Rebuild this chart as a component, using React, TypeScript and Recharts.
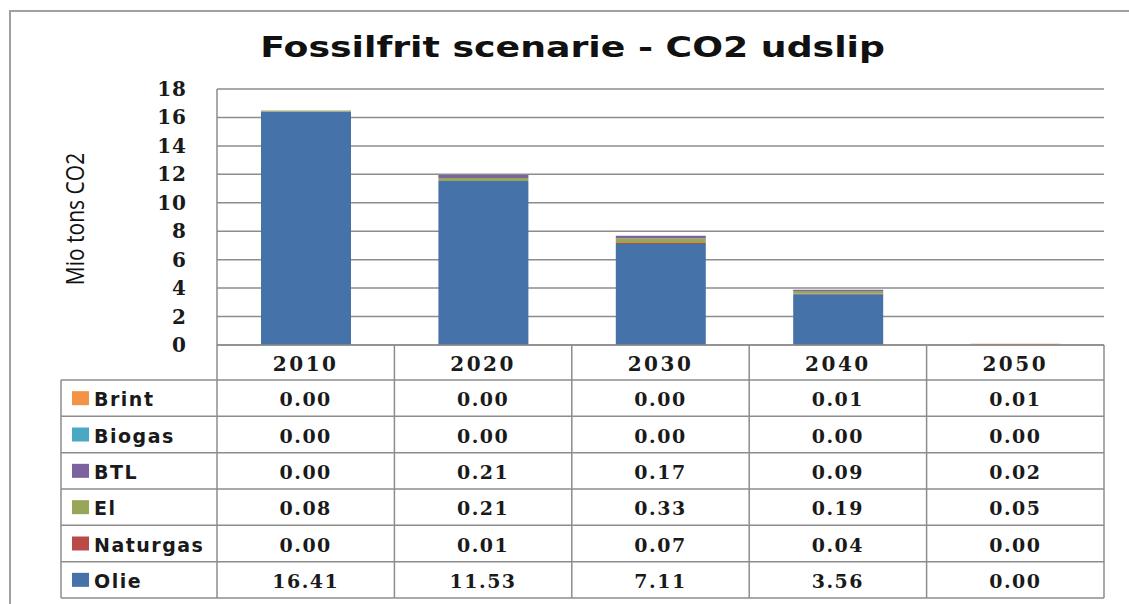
import React from 'react';
import { BarChart, Bar, XAxis, YAxis, CartesianGrid } from 'recharts';

const years = ['2010', '2020', '2030', '2040', '2050'];
const olie = [16.41, 11.53, 7.11, 3.56, 0.0];
const naturgas = [0.0, 0.01, 0.07, 0.04, 0.0];
const el = [0.08, 0.21, 0.33, 0.19, 0.05];
const btl = [0.0, 0.21, 0.17, 0.09, 0.02];
const biogas = [0.0, 0.0, 0.0, 0.0, 0.0];
const brint = [0.0, 0.0, 0.0, 0.01, 0.01];
const yTicks = [0, 2, 4, 6, 8, 10, 12, 14, 16, 18];

// stacking order (bottom -> top)
const series = [
  { key: 'Olie', values: olie, color: '#4672AA' },
  { key: 'Naturgas', values: naturgas, color: '#B94A48' },
  { key: 'El', values: el, color: '#98A65A' },
  { key: 'BTL', values: btl, color: '#7D62A0' },
  { key: 'Biogas', values: biogas, color: '#4AA8C4' },
  { key: 'Brint', values: brint, color: '#F39444' },
];
// table order (top -> bottom)
const tableRows = [...series].reverse();

const data = years.map((y, i) => {
  const row: Record<string, any> = { year: y };
  series.forEach((s) => (row[s.key] = s.values[i]));
  return row;
});

const W = 1129;
const H = 604;
const PLOT_LEFT = 217;
const PLOT_RIGHT = 1104;
const PLOT_TOP = 89;
const PLOT_BOTTOM = 345;
const COL_W = (PLOT_RIGHT - PLOT_LEFT) / years.length;
const HEADER_BOTTOM = 380;
const TABLE_BOTTOM = 598;
const ROW_H = (TABLE_BOTTOM - HEADER_BOTTOM) / tableRows.length;
const LEGEND_LEFT = 61;
const LINE = '#8c8c8c';
const NUM_FONT = '"DejaVu Serif", serif';
const SANS = '"DejaVu Sans", sans-serif';

const TableTick = (props: any) => {
  const { payload, index } = props;
  const cx = payload && payload.coordinate != null ? payload.coordinate : props.x;
  const left = cx - COL_W / 2;
  const right = cx + COL_W / 2;
  const i = index;
  const els: any[] = [];
  els.push(<line key="vl" x1={left} x2={left} y1={PLOT_BOTTOM} y2={TABLE_BOTTOM} stroke={LINE} strokeWidth={1.5} />);
  if (i === years.length - 1) {
    els.push(<line key="vr" x1={right} x2={right} y1={PLOT_BOTTOM} y2={TABLE_BOTTOM} stroke={LINE} strokeWidth={1.5} />);
  }
  for (let r = 0; r <= tableRows.length; r++) {
    const yy = HEADER_BOTTOM + r * ROW_H;
    els.push(<line key={'h' + r} x1={left} x2={right} y1={yy} y2={yy} stroke={LINE} strokeWidth={1.5} />);
  }
  els.push(
    <text key="yr" x={cx} y={(PLOT_BOTTOM + HEADER_BOTTOM) / 2 + 1} textAnchor="middle" dominantBaseline="central"
      fontFamily={NUM_FONT} fontSize={20} fontWeight="bold" letterSpacing={2.5} fill="#1a1a1a">
      {payload.value}
    </text>
  );
  tableRows.forEach((s, r) => {
    const yy = HEADER_BOTTOM + r * ROW_H + ROW_H / 2 + 1;
    els.push(
      <text key={'v' + r} x={cx} y={yy} textAnchor="middle" dominantBaseline="central"
        fontFamily={NUM_FONT} fontSize={19} fontWeight="bold" letterSpacing={1.5} fill="#1a1a1a">
        {s.values[i].toFixed(2)}
      </text>
    );
  });
  if (i === 0) {
    els.push(<line key="ll" x1={LEGEND_LEFT} x2={LEGEND_LEFT} y1={HEADER_BOTTOM} y2={TABLE_BOTTOM} stroke={LINE} strokeWidth={1.5} />);
    for (let r = 0; r <= tableRows.length; r++) {
      const yy = HEADER_BOTTOM + r * ROW_H;
      els.push(<line key={'lh' + r} x1={LEGEND_LEFT} x2={left} y1={yy} y2={yy} stroke={LINE} strokeWidth={1.5} />);
    }
    tableRows.forEach((s, r) => {
      const yc = HEADER_BOTTOM + r * ROW_H + ROW_H / 2;
      els.push(<rect key={'sq' + r} x={72} y={yc - 7} width={17} height={14} fill={s.color} />);
      els.push(
        <text key={'lt' + r} x={94} y={yc + 1} dominantBaseline="central" fontFamily={SANS} fontSize={19}
          fontWeight="bold" letterSpacing={1.5} fill="#1a1a1a">
          {s.key}
        </text>
      );
    });
  }
  return <g>{els}</g>;
};

const YTick = (props: any) => {
  const { y, payload } = props;
  return (
    <text x={187} y={y} textAnchor="end" dominantBaseline="central" fontFamily={NUM_FONT} fontSize={20}
      fontWeight="bold" letterSpacing={1} fill="#1a1a1a">
      {payload.value}
    </text>
  );
};

export default function App() {
  return (
    <div style={{ position: 'absolute', left: 0, top: 0, width: W, height: H, background: '#fff', overflow: 'hidden' }}>
      <div style={{ position: 'absolute', left: 9, top: 10, width: W, height: H, borderLeft: '2px solid #a0a0a0', borderTop: '2px solid #a0a0a0' }} />
      <div style={{ position: 'absolute', left: 8, top: 30, width: W, textAlign: 'center', fontFamily: SANS, fontWeight: 'bold', fontSize: 29, color: '#111', transform: 'scaleX(1.25)', transformOrigin: '564px 0' }}>
        Fossilfrit scenarie - CO2 udslip
      </div>
      <div style={{ position: 'absolute', left: 74, top: 219, transform: 'translate(-50%, -50%) rotate(-90deg) scaleY(1.2)', whiteSpace: 'nowrap', fontFamily: '"Open Sans", sans-serif', fontSize: 21, color: '#111' }}>
        Mio tons CO2
      </div>
      <div style={{ position: 'absolute', left: 0, top: 0 }}>
        <BarChart width={W} height={H} data={data}
          margin={{ top: PLOT_TOP, right: W - PLOT_RIGHT, bottom: 6, left: PLOT_LEFT - 60 }}>
          <CartesianGrid horizontal vertical={false} stroke={LINE} strokeWidth={1.5} />
          <XAxis dataKey="year" height={H - 6 - PLOT_BOTTOM} interval={0} tickLine={false} tickSize={0}
            axisLine={{ stroke: LINE, strokeWidth: 1.5 }} tick={<TableTick />} />
          <YAxis width={60} domain={[0, 18]} ticks={yTicks} interval={0} tickLine={false}
            axisLine={{ stroke: LINE, strokeWidth: 1.5 }} tick={<YTick />} />
          {series.map((s) => (
            <Bar key={s.key} dataKey={s.key} stackId="a" fill={s.color} barSize={90} isAnimationActive={false} />
          ))}
        </BarChart>
      </div>
    </div>
  );
}
